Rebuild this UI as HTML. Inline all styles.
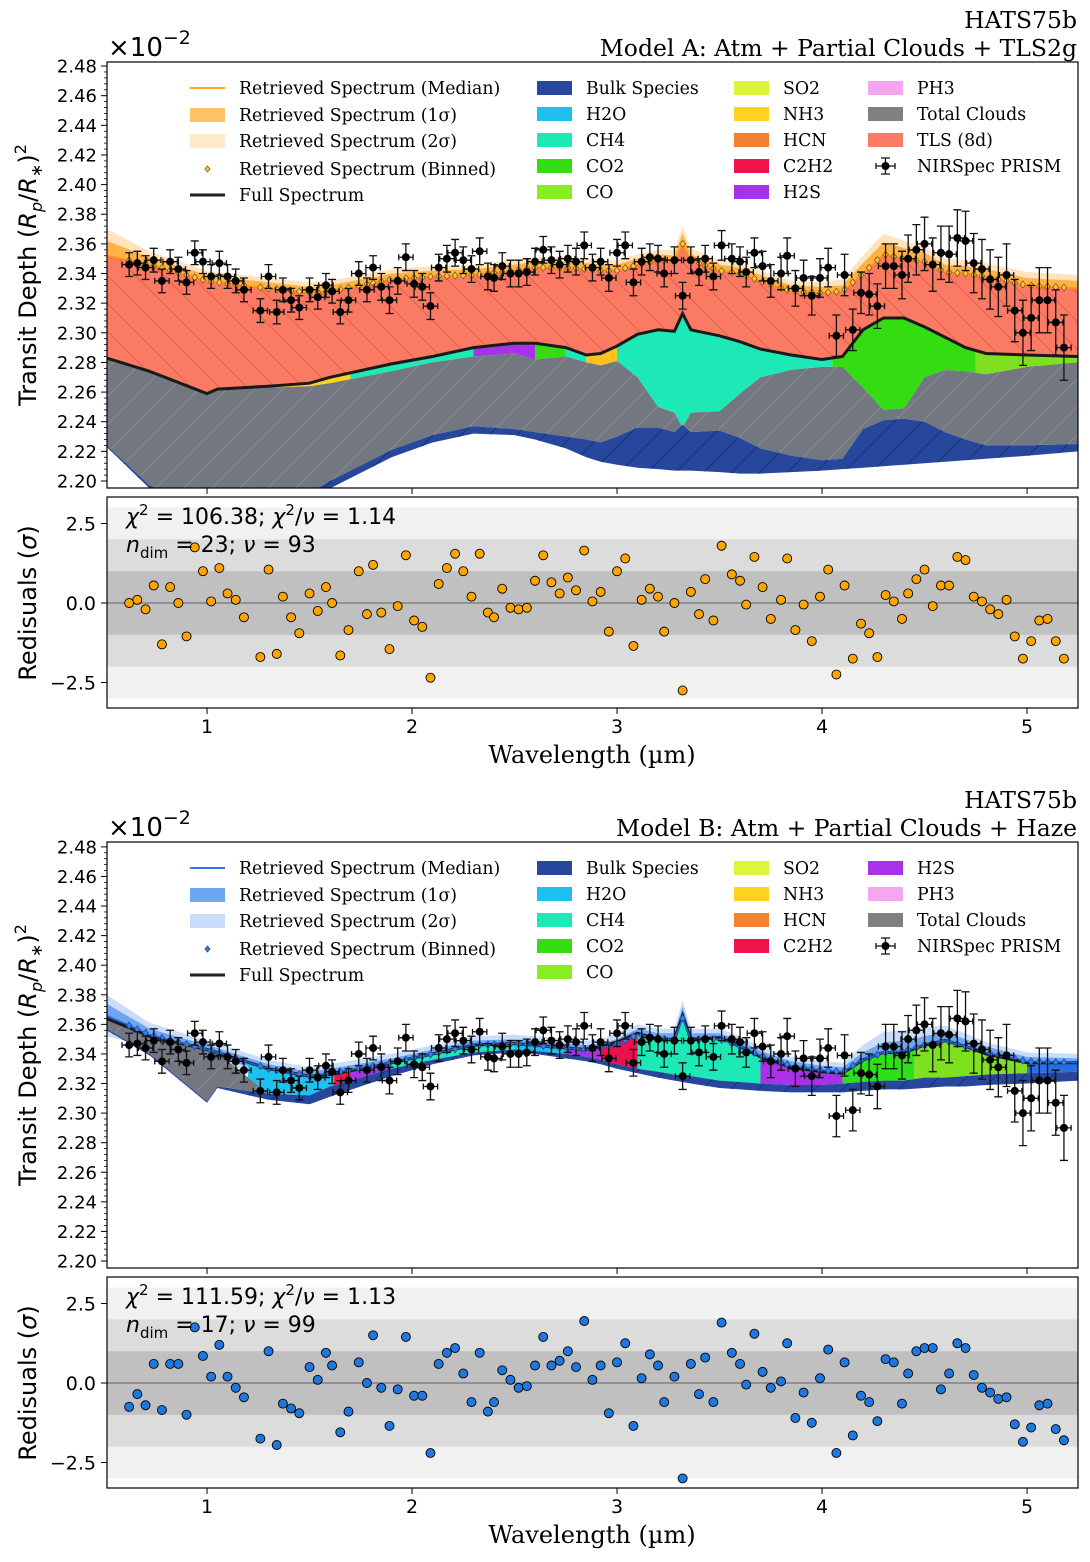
<!DOCTYPE html>
<html><head><meta charset="utf-8"><title>HATS75b retrieval</title>
<style>
html,body{margin:0;padding:0;background:#fff;}
svg{display:block;}
.serif{font-family:"DejaVu Serif","Liberation Serif",serif;}
.sans{font-family:"DejaVu Sans","Liberation Sans",sans-serif;}
</style></head>
<body>
<svg id="chart" width="1090" height="1562" viewBox="0 0 1090 1562" xmlns="http://www.w3.org/2000/svg">
<defs>
<pattern id="hTLS" width="28" height="28" patternUnits="userSpaceOnUse"><path d="M0,0L28,28M-14,14L14,42M14,-14L42,14" stroke="#e8604c" stroke-width="1"/></pattern>
<pattern id="hGray" width="28" height="28" patternUnits="userSpaceOnUse"><path d="M0,28L28,0M-14,14L14,-14M14,42L42,14" stroke="#888c94" stroke-width="1"/></pattern>
<pattern id="hBulk" width="28" height="28" patternUnits="userSpaceOnUse"><path d="M0,28L28,0M-14,14L14,-14M14,42L42,14" stroke="#16307a" stroke-width="1"/></pattern>
<clipPath id="clipA"><rect x="107" y="62" width="971" height="426"/></clipPath>
<clipPath id="clipB"><rect x="107" y="842" width="971" height="426"/></clipPath>
<clipPath id="clipRA"><rect x="107" y="497" width="971" height="211"/></clipPath>
<clipPath id="clipRB"><rect x="107" y="1277" width="971" height="211"/></clipPath>
</defs>

<text class="serif" x="1077" y="28" text-anchor="end" font-size="23.5">HATS75b</text>
<text class="serif" x="1077" y="56" text-anchor="end" font-size="23.5">Model A: Atm + Partial Clouds + TLS2g</text>
<text class="sans" x="108" y="56" font-size="26">×10<tspan dy="-12" font-size="19">−2</tspan></text>
<text class="serif" x="1077" y="808" text-anchor="end" font-size="23.5">HATS75b</text>
<text class="serif" x="1077" y="836" text-anchor="end" font-size="23.5">Model B: Atm + Partial Clouds + Haze</text>
<text class="sans" x="108" y="836" font-size="26">×10<tspan dy="-12" font-size="19">−2</tspan></text>

<text class="sans" transform="translate(36,275) rotate(-90)" text-anchor="middle" font-size="24">Transit Depth (<tspan font-style="italic">R</tspan><tspan font-style="italic" font-size="16" dy="6">p</tspan><tspan dy="-6">/</tspan><tspan font-style="italic">R</tspan><tspan font-size="16" dy="6">∗</tspan><tspan dy="-6">)</tspan><tspan font-size="16" dy="-10">2</tspan></text>
<text class="sans" transform="translate(36,1055) rotate(-90)" text-anchor="middle" font-size="24">Transit Depth (<tspan font-style="italic">R</tspan><tspan font-style="italic" font-size="16" dy="6">p</tspan><tspan dy="-6">/</tspan><tspan font-style="italic">R</tspan><tspan font-size="16" dy="6">∗</tspan><tspan dy="-6">)</tspan><tspan font-size="16" dy="-10">2</tspan></text>
<text class="sans" transform="translate(36,603) rotate(-90)" text-anchor="middle" font-size="24">Redisuals (<tspan font-style="italic">σ</tspan>)</text>
<text class="sans" transform="translate(36,1383) rotate(-90)" text-anchor="middle" font-size="24">Redisuals (<tspan font-style="italic">σ</tspan>)</text>
<text class="serif" x="592" y="763" text-anchor="middle" font-size="24">Wavelength (µm)</text>
<text class="serif" x="592" y="1543" text-anchor="middle" font-size="24">Wavelength (µm)</text>
</svg>

<script>
// ---------- data ----------
const wl = [0.62,0.66,0.70,0.74,0.78,0.82,0.86,0.90,0.94,0.98,
1.02,1.06,1.10,1.14,1.18,1.26,1.30,1.34,1.37,1.41,
1.45,1.50,1.54,1.58,1.61,1.65,1.69,1.74,1.78,1.81,
1.85,1.89,1.93,1.97,2.01,2.05,2.09,2.13,2.17,2.21,
2.25,2.29,2.33,2.37,2.40,2.44,2.48,2.52,2.56,2.60,
2.64,2.68,2.72,2.76,2.80,2.84,2.88,2.92,2.96,3.00,
3.04,3.08,3.12,3.16,3.20,3.23,3.28,3.32,3.36,3.40,
3.43,3.47,3.51,3.56,3.60,3.63,3.67,3.71,3.75,3.80,
3.83,3.87,3.91,3.95,3.99,4.03,4.07,4.11,4.15,4.19,
4.23,4.27,4.31,4.35,4.39,4.42,4.46,4.50,4.54,4.58,
4.62,4.66,4.70,4.74,4.78,4.82,4.86,4.90,4.94,4.98,
5.02,5.06,5.10,5.14,5.18];
const depth = [2.346,2.347,2.344,2.349,2.335,2.348,2.343,2.334,2.354,2.348,
2.338,2.347,2.338,2.335,2.329,2.315,2.338,2.314,2.329,2.322,
2.317,2.329,2.324,2.332,2.328,2.314,2.322,2.340,2.329,2.344,
2.331,2.322,2.335,2.351,2.333,2.331,2.318,2.344,2.350,2.354,
2.349,2.343,2.355,2.338,2.337,2.345,2.340,2.340,2.341,2.348,
2.356,2.349,2.346,2.350,2.348,2.359,2.344,2.348,2.337,2.354,
2.359,2.334,2.348,2.351,2.350,2.340,2.349,2.325,2.349,2.341,
2.350,2.338,2.359,2.350,2.348,2.341,2.354,2.345,2.335,2.340,
2.352,2.330,2.337,2.325,2.337,2.344,2.298,2.339,2.302,2.327,
2.326,2.318,2.345,2.345,2.339,2.350,2.356,2.360,2.346,2.354,
2.353,2.364,2.362,2.347,2.343,2.336,2.331,2.339,2.315,2.300,
2.310,2.322,2.322,2.307,2.290];
const depthErr = [0.008,0.008,0.008,0.008,0.008,0.008,0.008,0.008,0.008,0.008,
0.008,0.008,0.008,0.008,0.008,0.008,0.008,0.008,0.008,0.008,
0.008,0.008,0.008,0.008,0.008,0.008,0.008,0.008,0.008,0.008,
0.009,0.009,0.009,0.009,0.009,0.009,0.009,0.009,0.009,0.009,
0.009,0.009,0.009,0.009,0.009,0.009,0.009,0.009,0.009,0.009,
0.009,0.009,0.009,0.009,0.009,0.009,0.009,0.009,0.009,0.009,
0.009,0.009,0.009,0.009,0.009,0.009,0.009,0.009,0.009,0.009,
0.009,0.009,0.010,0.010,0.010,0.010,0.010,0.010,0.011,0.011,
0.012,0.012,0.012,0.013,0.013,0.013,0.014,0.014,0.014,0.014,
0.014,0.015,0.015,0.015,0.016,0.016,0.017,0.018,0.018,0.018,
0.019,0.019,0.020,0.020,0.020,0.020,0.020,0.021,0.021,0.022,
0.022,0.022,0.022,0.022,0.022];
const residA = [0.0,0.1,-0.2,0.55,-1.3,0.5,0.0,-1.05,1.75,1.0,
0.05,1.1,0.3,0.1,-0.45,-1.7,1.05,-1.6,0.2,-0.45,
-0.95,0.3,-0.25,0.5,0.0,-1.65,-0.85,1.0,-0.35,1.2,
-0.3,-1.45,-0.1,1.5,-0.55,-0.75,-2.35,0.6,1.1,1.55,
1.0,0.2,1.55,-0.3,-0.45,0.45,-0.15,-0.2,-0.15,0.7,
1.5,0.65,0.3,0.8,0.4,1.65,0.05,0.35,-0.9,1.0,
1.4,-1.35,0.1,0.45,0.2,-0.9,0.0,-2.75,0.35,-0.35,
0.75,-0.55,1.8,0.9,0.7,-0.05,1.45,0.5,-0.5,0.1,
1.4,-0.85,-0.05,-1.2,0.2,1.05,-2.25,0.55,-1.75,-0.65,
-0.95,-1.7,0.25,0.05,-0.5,0.3,0.75,1.05,-0.1,0.55,
0.55,1.45,1.35,0.2,0.05,-0.2,-0.35,0.1,-1.05,-1.75,
-1.2,-0.55,-0.5,-1.2,-1.75];
const residB = [-0.75,-0.35,-0.7,0.6,-0.85,0.6,0.6,-1.0,1.75,0.85,
0.2,1.2,0.2,-0.15,-0.45,-1.75,1.0,-1.95,-0.65,-0.8,
-0.95,0.5,0.1,0.95,0.55,-1.55,-0.9,0.65,0.0,1.5,
-0.15,-1.35,-0.2,1.45,-0.4,-0.4,-2.2,0.6,0.95,1.1,
0.3,-0.6,0.95,-0.9,-0.6,0.4,0.1,-0.15,-0.1,0.55,
1.45,0.55,0.7,1.0,0.5,1.95,0.1,0.55,-0.95,0.65,
1.25,-1.35,0.15,0.9,0.55,-0.6,0.2,-3.0,0.6,-0.35,
0.8,-0.6,1.9,0.95,0.6,-0.05,1.55,0.35,-0.15,0.05,
1.25,-1.1,-0.3,-1.25,0.15,1.05,-2.2,0.65,-1.65,-0.4,
-0.6,-1.2,0.75,0.65,-0.65,0.3,1.0,1.1,1.1,-0.2,
0.3,1.25,1.1,0.25,-0.15,-0.3,-0.5,-0.45,-1.3,-1.85,
-1.4,-0.7,-0.65,-1.45,-1.8];

// model grid
const wlModel = [0.51,0.72,1.0,1.05,1.3,1.5,1.6,1.9,2.1,2.3,2.5,2.6,2.75,2.85,2.92,3.0,3.1,3.2,3.28,3.32,3.36,3.5,3.6,3.7,3.85,4.0,4.1,4.2,4.3,4.4,4.5,4.6,4.7,4.8,5.0,5.25];
const medianA = [2.352,2.346,2.335,2.334,2.330,2.327,2.328,2.336,2.338,2.339,2.342,2.344,2.344,2.343,2.342,2.342,2.346,2.349,2.348,2.360,2.349,2.342,2.340,2.335,2.328,2.327,2.328,2.340,2.353,2.350,2.348,2.341,2.340,2.338,2.332,2.330];
const sig1A = [0.010,0.005,0.004,0.004,0.004,0.004,0.004,0.004,0.004,0.004,0.004,0.004,0.004,0.004,0.004,0.004,0.004,0.004,0.004,0.007,0.004,0.004,0.004,0.004,0.004,0.004,0.004,0.007,0.008,0.007,0.006,0.005,0.005,0.005,0.005,0.005];
const sig2A = [0.018,0.009,0.007,0.007,0.007,0.007,0.007,0.007,0.007,0.007,0.007,0.007,0.007,0.007,0.007,0.007,0.007,0.007,0.008,0.012,0.008,0.007,0.007,0.007,0.007,0.007,0.008,0.012,0.014,0.012,0.010,0.009,0.009,0.009,0.009,0.009];
const fullA = [2.283,2.274,2.259,2.262,2.264,2.266,2.270,2.279,2.284,2.290,2.293,2.293,2.290,2.285,2.286,2.291,2.299,2.302,2.301,2.313,2.302,2.298,2.294,2.289,2.285,2.282,2.284,2.302,2.310,2.310,2.304,2.297,2.290,2.286,2.285,2.284];
const cloudTopA = [2.283,2.274,2.259,2.262,2.263,2.264,2.266,2.274,2.280,2.284,2.286,2.282,2.284,2.280,2.278,2.281,2.270,2.250,2.246,2.236,2.246,2.247,2.259,2.270,2.275,2.277,2.277,2.263,2.248,2.249,2.270,2.275,2.274,2.272,2.277,2.280];
const bulkTopA = [2.224,2.197,2.180,2.180,2.184,2.192,2.200,2.221,2.231,2.237,2.235,2.233,2.230,2.228,2.226,2.230,2.236,2.236,2.233,2.238,2.233,2.234,2.229,2.222,2.217,2.214,2.215,2.235,2.241,2.242,2.240,2.233,2.228,2.224,2.224,2.225];
const bulkBotA = [2.223,2.195,2.175,2.175,2.178,2.185,2.195,2.216,2.226,2.232,2.231,2.228,2.222,2.216,2.213,2.211,2.209,2.208,2.207,2.207,2.207,2.206,2.205,2.205,2.206,2.207,2.208,2.209,2.210,2.211,2.212,2.213,2.214,2.215,2.217,2.220];
const molStartA = [1.3,1.7,2.3,2.6,2.75,2.85,3.0,4.05,4.75];
const molEndA   = [1.7,2.3,2.6,2.75,2.85,3.02,4.05,4.75,5.25];
const molColorA = ['#ffd21f','#1de9b6','#a832ea','#33dd11','#1de9b6','#ffc21f','#1de9b6','#33dd11','#7ee01e'];

const medianB = [2.366,2.353,2.343,2.341,2.330,2.325,2.327,2.334,2.340,2.346,2.347,2.346,2.344,2.343,2.344,2.347,2.353,2.350,2.350,2.364,2.350,2.350,2.345,2.339,2.332,2.329,2.328,2.336,2.341,2.342,2.346,2.349,2.345,2.341,2.335,2.334];
const sig1B = [0.008,0.004,0.003,0.003,0.003,0.003,0.003,0.003,0.003,0.003,0.003,0.003,0.003,0.003,0.003,0.003,0.004,0.004,0.004,0.008,0.004,0.004,0.004,0.003,0.003,0.003,0.003,0.005,0.007,0.007,0.006,0.006,0.005,0.004,0.003,0.003];
const sig2B = [0.014,0.008,0.006,0.006,0.006,0.006,0.006,0.006,0.006,0.006,0.006,0.006,0.006,0.006,0.006,0.007,0.007,0.007,0.007,0.012,0.007,0.007,0.007,0.006,0.006,0.006,0.006,0.010,0.014,0.014,0.012,0.010,0.009,0.007,0.006,0.006];
const fullB = [2.364,2.352,2.343,2.341,2.330,2.325,2.326,2.334,2.340,2.346,2.347,2.346,2.344,2.343,2.345,2.348,2.354,2.350,2.350,2.366,2.350,2.351,2.345,2.338,2.331,2.328,2.327,2.336,2.341,2.341,2.346,2.349,2.345,2.340,2.334,2.334];
const cloudTopB = [2.364,2.352,2.343,2.341,2.313,2.312,2.318,2.330,2.336,2.341,2.343,2.342,2.340,2.338,2.336,2.333,2.330,2.328,2.326,2.325,2.325,2.322,2.321,2.320,2.319,2.319,2.320,2.321,2.322,2.322,2.324,2.324,2.325,2.326,2.327,2.328];
const bulkTopB = [2.357,2.340,2.308,2.318,2.313,2.312,2.318,2.330,2.336,2.341,2.343,2.342,2.340,2.338,2.336,2.333,2.330,2.328,2.326,2.325,2.325,2.322,2.321,2.320,2.319,2.319,2.320,2.321,2.322,2.322,2.324,2.324,2.325,2.326,2.327,2.328];
const bulkBotB = [2.356,2.339,2.307,2.317,2.309,2.306,2.311,2.325,2.333,2.339,2.341,2.340,2.337,2.335,2.333,2.330,2.327,2.324,2.322,2.321,2.320,2.317,2.316,2.315,2.314,2.314,2.314,2.315,2.316,2.316,2.317,2.318,2.318,2.319,2.320,2.322];
const molStartB = [1.2,1.62,1.7,1.9,2.5,2.75,2.92,3.1,3.7,4.1,4.45,5.0];
const molEndB   = [1.62,1.7,1.9,2.5,2.75,2.92,3.1,3.7,4.1,4.45,5.0,5.25];
const molColorB = ['#1ec0f0','#f0144b','#a832ea','#1de9b6','#1ec0f0','#a832ea','#e8124e','#1de9b6','#a832ea','#2ee01a','#7ee01e','#2a6fe0'];

const yTicksMain = [2.20,2.22,2.24,2.26,2.28,2.30,2.32,2.34,2.36,2.38,2.40,2.42,2.44,2.46,2.48];
const yTickLabelsMain = ['2.20','2.22','2.24','2.26','2.28','2.30','2.32','2.34','2.36','2.38','2.40','2.42','2.44','2.46','2.48'];
const xTicks = [1,2,3,4,5];
const xTickLabels = ['1','2','3','4','5'];
const resTicks = [2.5,0,-2.5];
const resTickLabels = ['2.5','0.0','−2.5'];

// ---------- helpers ----------
const NS = 'http://www.w3.org/2000/svg';
const svg = document.getElementById('chart');
function el(tag, parent){ const e = document.createElementNS(NS, tag); (parent||svg).appendChild(e); return e; }
function at(e, o){ for (const k in o) e.setAttribute(k, o[k]); return e; }
const xS = w => 107 + (w - 0.512) * 205;
function interp(xs, ys, x){
  if (x <= xs[0]) return ys[0];
  for (let i = 1; i < xs.length; i++) if (x <= xs[i]) { const t = (x - xs[i-1]) / (xs[i] - xs[i-1]); return ys[i-1] + t * (ys[i] - ys[i-1]); }
  return ys[ys.length-1];
}
function bandD(xs, up, lo, sy){
  let d = '';
  for (let i = 0; i < xs.length; i++) d += (i ? 'L' : 'M') + xS(xs[i]).toFixed(1) + ',' + sy(up[i]).toFixed(1);
  for (let i = xs.length - 1; i >= 0; i--) d += 'L' + xS(xs[i]).toFixed(1) + ',' + sy(lo[i]).toFixed(1);
  return d + 'Z';
}
function lineD(xs, ys, sy){
  let d = '';
  for (let i = 0; i < xs.length; i++) d += (i ? 'L' : 'M') + xS(xs[i]).toFixed(1) + ',' + sy(ys[i]).toFixed(1);
  return d;
}

function drawMain(P){
  const sy = d => P.y0 - (d - 2.20) * P.k;
  const top = P.top, h = 426;
  const g = el('g'); g.setAttribute('clip-path', 'url(#' + P.clip + ')');
  
  
  const up2 = P.median.map((v,i)=>v+P.s2[i]), lo2 = P.median.map((v,i)=>v-P.s2[i]);
  const up1 = P.median.map((v,i)=>v+P.s1[i]), lo1 = P.median.map((v,i)=>v-P.s1[i]);
  let e = el('path', g); at(e, {d: bandD(wlModel, up2, lo2, sy), fill: P.c2});
  
  
  e = el('path', g); at(e, {d: bandD(wlModel, up1, lo1, sy), fill: P.c1});
  
  
  if (P.tls){
    e = el('path', g); at(e, {d: bandD(wlModel, P.median, P.full, sy), fill: '#fa7a64'});
    
    
    e = el('path', g); at(e, {d: bandD(wlModel, P.median, P.full, sy), fill: 'url(#hTLS)'});
    
    
  }
  for (let i = 0; i < P.ms.length; i++){
    const cp = el('clipPath', g); cp.setAttribute('id', P.id + 'mc' + i);
    const r = el('rect', cp); at(r, {x: xS(P.ms[i]), y: top, width: xS(P.me[i]) - xS(P.ms[i]), height: h});
    e = el('path', g); at(e, {d: bandD(wlModel, P.full, P.cloud, sy), fill: P.mc[i], 'clip-path': 'url(#' + P.id + 'mc' + i + ')'});
    
    
  }
  e = el('path', g); at(e, {d: bandD(wlModel, P.cloud, P.bulkTop, sy), fill: '#737780'});
  
  
  e = el('path', g); at(e, {d: bandD(wlModel, P.cloud, P.bulkTop, sy), fill: 'url(#hGray)'});
  
  
  e = el('path', g); at(e, {d: bandD(wlModel, P.bulkTop, P.bulkBot, sy), fill: '#27479d'});
  
  
  e = el('path', g); at(e, {d: bandD(wlModel, P.bulkTop, P.bulkBot, sy), fill: 'url(#hBulk)'});
  
  
  e = el('path', g); at(e, {d: lineD(wlModel, P.full, sy), fill: 'none', stroke: '#1a1a1a', 'stroke-width': 3});
  
  
  e = el('path', g); at(e, {d: lineD(wlModel, P.median, sy), fill: 'none', stroke: P.cm, 'stroke-width': 1.5});
  
  
  for (let i = 0; i < wl.length; i++){
    const x = xS(wl[i]), y = sy(interp(wlModel, P.median, wl[i]));
    e = el('path', g); at(e, {d: `M${x},${y-3.5}L${x+2.8},${y}L${x},${y+3.5}L${x-2.8},${y}Z`, fill: P.dFill, stroke: P.dStroke, 'stroke-width': 0.8});
    
    
  }
  for (let i = 0; i < wl.length; i++){
    const x = xS(wl[i]), y = sy(depth[i]), y1 = sy(depth[i] + depthErr[i]), y2 = sy(depth[i] - depthErr[i]);
    const x1 = xS(wl[i] - 0.035), x2 = xS(wl[i] + 0.035);
    e = el('path', g); at(e, {d: `M${x},${y1}L${x},${y2}M${x-4},${y1}L${x+4},${y1}M${x-4},${y2}L${x+4},${y2}M${x1},${y}L${x2},${y}M${x1},${y-3}L${x1},${y+3}M${x2},${y-3}L${x2},${y+3}`, stroke: '#111', 'stroke-width': 1.3, fill: 'none'});
    
    
    e = el('circle', g); at(e, {cx: x, cy: y, r: 4, fill: '#000'});
    
    
  }
  e = el('rect'); at(e, {x: 107, y: top, width: 971, height: h, fill: 'none', stroke: '#000', 'stroke-width': 1.2});
  
  
  for (let i = 0; i < yTicksMain.length; i++){
    const y = sy(yTicksMain[i]);
    e = el('line'); at(e, {x1: 101, x2: 107, y1: y, y2: y, stroke: '#000', 'stroke-width': 1});
    
    
    e = el('text'); at(e, {x: 97, y: y + 6.5, 'text-anchor': 'end', 'font-size': 18, class: 'sans'});
    e.textContent = yTickLabelsMain[i];
    
    
    if (i < yTicksMain.length - 1) for (let j = 1; j < 5; j++){
      const ym = sy(yTicksMain[i] + j * 0.004);
      e = el('line'); at(e, {x1: 104, x2: 107, y1: ym, y2: ym, stroke: '#000', 'stroke-width': 0.8});
      
      
    }
  }
  for (let i = 0; i < xTicks.length; i++){
    const x = xS(xTicks[i]);
    e = el('line'); at(e, {x1: x, x2: x, y1: top + h, y2: top + h + 6, stroke: '#000', 'stroke-width': 1});
    
    
  }
}

function drawResid(R){
  const sy = r => R.y0 - r * 31.8;
  const top = R.top, h = 211;
  const g = el('g'); g.setAttribute('clip-path', 'url(#' + R.clip + ')');
  
  
  const levels = [[3,'#f1f1f1'],[2,'#dcdcdc'],[1,'#c0c0c0']];
  for (const [lv, c] of levels){
    const e = el('rect', g); at(e, {x: 107, y: sy(lv), width: 971, height: sy(-lv) - sy(lv), fill: c});
    
    
  }
  let e = el('line', g); at(e, {x1: 107, x2: 1078, y1: sy(0), y2: sy(0), stroke: '#808080', 'stroke-width': 1.5});
  
  
  for (let i = 0; i < wl.length; i++){
    e = el('circle', g); at(e, {cx: xS(wl[i]), cy: sy(R.vals[i]), r: 4.5, fill: R.color, stroke: '#000', 'stroke-width': 0.9});
    
    
  }
  e = el('rect'); at(e, {x: 107, y: top, width: 971, height: h, fill: 'none', stroke: '#000', 'stroke-width': 1.2});
  
  
  for (let i = 0; i < resTicks.length; i++){
    const y = sy(resTicks[i]);
    e = el('line'); at(e, {x1: 101, x2: 107, y1: y, y2: y, stroke: '#000'});
    
    
    e = el('text'); at(e, {x: 96, y: y + 7, 'text-anchor': 'end', 'font-size': 19, class: 'sans'});
    e.textContent = resTickLabels[i];
    
    
  }
  for (let i = 0; i < xTicks.length; i++){
    const x = xS(xTicks[i]);
    e = el('line'); at(e, {x1: x, x2: x, y1: top + h, y2: top + h + 6, stroke: '#000'});
    
    
    e = el('text'); at(e, {x: x, y: top + h + 25, 'text-anchor': 'middle', 'font-size': 19, class: 'sans'});
    e.textContent = xTickLabels[i];
    
    
  }
  e = el('text'); at(e, {x: 126, y: top + 27, 'font-size': 22, class: 'sans'});
  e.innerHTML = '<tspan font-style="italic">χ</tspan><tspan dy="-9" font-size="15">2</tspan><tspan dy="9"> = ' + R.chi + '; </tspan><tspan font-style="italic">χ</tspan><tspan dy="-9" font-size="15">2</tspan><tspan dy="9">/</tspan><tspan font-style="italic">ν</tspan><tspan> = ' + R.red + '</tspan>';
  
  
  e = el('text'); at(e, {x: 126, y: top + 55, 'font-size': 22, class: 'sans'});
  e.innerHTML = '<tspan font-style="italic">n</tspan><tspan dy="6" font-size="15">dim</tspan><tspan dy="-6"> = ' + R.ndim + '; </tspan><tspan font-style="italic">ν</tspan><tspan> = ' + R.nu + '</tspan>';
  
  
}

function legend(L){
  const g = el('g');
  
  
  const y0 = L.y0;
  const c1 = [L.labels1[0], L.labels1[1], L.labels1[2], L.labels1[3], 'Full Spectrum'];
  const ys1 = [0, 27, 53, 81, 107];
  for (let i = 0; i < 5; i++){
    const y = y0 + ys1[i];
    let e;
    if (i === 0){ e = el('line', g); at(e, {x1: 190, x2: 225, y1: y, y2: y, stroke: L.cm, 'stroke-width': 1.8}); }
    else if (i === 1){ e = el('rect', g); at(e, {x: 190, y: y - 7, width: 35, height: 14, fill: L.c1}); }
    else if (i === 2){ e = el('rect', g); at(e, {x: 190, y: y - 7, width: 35, height: 14, fill: L.c2}); }
    else if (i === 3){ e = el('path', g); at(e, {d: `M207.5,${y-3}L210,${y}L207.5,${y+3}L205,${y}Z`, fill: L.dFill, stroke: L.dStroke, 'stroke-width': 0.8}); }
    else { e = el('line', g); at(e, {x1: 190, x2: 225, y1: y, y2: y, stroke: '#222', 'stroke-width': 3}); }
    
    
    const t = el('text', g); at(t, {x: 239, y: y + 6, 'font-size': 17.3, class: 'serif'});
    t.textContent = c1[i];
    
    
  }
  const cols = [[537, 586, L.col2], [734, 783, L.col3], [868, 917, L.col4]];
  for (const [px, tx, items] of cols){
    for (let i = 0; i < items.length; i++){
      const y = y0 + i * 26;
      let e;
      if (items[i][1] === 'err'){
        e = el('path', g); at(e, {d: `M876,${y}L895,${y}M885.5,${y-8}L885.5,${y+8}M881,${y-8}L890,${y-8}M881,${y+8}L890,${y+8}M876,${y-3}L876,${y+3}M895,${y-3}L895,${y+3}`, stroke: '#111', 'stroke-width': 1.3, fill: 'none'});
        
        
        e = el('circle', g); at(e, {cx: 885.5, cy: y, r: 4, fill: '#000'});
      } else {
        e = el('rect', g); at(e, {x: px, y: y - 7, width: 35, height: 14, fill: items[i][1]});
      }
      
      
      const t = el('text', g); at(t, {x: tx, y: y + 6, 'font-size': 17.3, class: 'serif'});
      t.textContent = items[i][0];
      
      
    }
  }
}

const labels1 = ['Retrieved Spectrum (Median)', 'Retrieved Spectrum (1σ)', 'Retrieved Spectrum (2σ)', 'Retrieved Spectrum (Binned)'];

drawMain({id:'model-a', y0:481, k:1482, top:62, clip:'clipA', median:medianA, s1:sig1A, s2:sig2A, full:fullA, cloud:cloudTopA, bulkTop:bulkTopA, bulkBot:bulkBotA, ms:molStartA, me:molEndA, mc:molColorA, tls:true, c1:'#ffb347', c2:'#ffe3bd', cm:'#ff9900', dFill:'#ffc14d', dStroke:'#8a5a00'});
drawResid({id:'model-a', y0:603, top:497, clip:'clipRA', vals:residA, color:'#ffa500', chi:'106.38', red:'1.14', ndim:'23', nu:'93'});
drawMain({id:'model-b', y0:1261, k:1479, top:842, clip:'clipB', median:medianB, s1:sig1B, s2:sig2B, full:fullB, cloud:cloudTopB, bulkTop:bulkTopB, bulkBot:bulkBotB, ms:molStartB, me:molEndB, mc:molColorB, tls:false, c1:'#6fa4f2', c2:'#c9dcfa', cm:'#1565e0', dFill:'#3b7de0', dStroke:'#1a4aa0'});
drawResid({id:'model-b', y0:1383, top:1277, clip:'clipRB', vals:residB, color:'#1f78e0', chi:'111.59', red:'1.13', ndim:'17', nu:'99'});

legend({id:'model-a', y0:88, labels1:labels1, cm:'#ff9900', c1:'#ffc266', c2:'#ffe9c9', dFill:'#ffc14d', dStroke:'#8a5a00',
  col2:[['Bulk Species','#27479d'],['H2O','#1ec0f0'],['CH4','#1de9b6'],['CO2','#33dd11'],['CO','#88ee22']],
  col3:[['SO2','#ddf53a'],['NH3','#ffd21f'],['HCN','#f58231'],['C2H2','#f0144b'],['H2S','#a832ea']],
  col4:[['PH3','#f4a6f0'],['Total Clouds','#808080'],['TLS (8d)','#fa7a64'],['NIRSpec PRISM','err']]});
legend({id:'model-b', y0:868, labels1:labels1, cm:'#1565e0', c1:'#6fa4f2', c2:'#c9dcfa', dFill:'#3b7de0', dStroke:'#1a4aa0',
  col2:[['Bulk Species','#27479d'],['H2O','#1ec0f0'],['CH4','#1de9b6'],['CO2','#33dd11'],['CO','#88ee22']],
  col3:[['SO2','#ddf53a'],['NH3','#ffd21f'],['HCN','#f58231'],['C2H2','#f0144b']],
  col4:[['H2S','#a832ea'],['PH3','#f4a6f0'],['Total Clouds','#808080'],['NIRSpec PRISM','err']]});
</script>
</body></html>
